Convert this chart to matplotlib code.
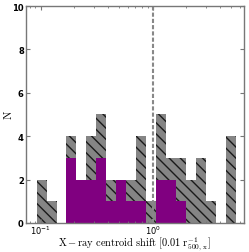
import numpy as np
import matplotlib
matplotlib.use("Agg")
import matplotlib.pyplot as plt

plt.rcParams['mathtext.fontset'] = 'cm'
plt.rcParams['hatch.linewidth'] = 1.0

# bin range (log-spaced bins) and counts
bin_lo = 0.0921
bin_hi = 5.51
n_bins = 20
all_counts = [2, 1, 0, 4, 2, 4, 5, 2, 2, 2, 4, 1, 5, 3, 3, 2, 3, 1, 0, 4]
sub_counts = [0, 0, 0, 3, 2, 2, 3, 1, 2, 1, 1, 0, 2, 2, 1, 0, 0, 0, 0, 0]
xlim = (0.0739, 6.53)
ylim = (0, 10)
vline_x = 1.0

edges = np.logspace(np.log10(bin_lo), np.log10(bin_hi), n_bins + 1)
widths = np.diff(edges)

fig = plt.figure(figsize=(2.49, 2.53), dpi=100)
ax = fig.add_axes([0.104, 0.115, 0.876, 0.857])

ax.bar(edges[:-1], all_counts, width=widths, align='edge',
       facecolor='#858585', edgecolor='#1a1a1a', linewidth=0, hatch='\\\\\\')
ax.bar(edges[:-1], sub_counts, width=widths, align='edge',
       facecolor='#800080', edgecolor='#800080', linewidth=0)

ax.axvline(vline_x, color='#888888', linestyle='--', linewidth=1.5, dashes=(2, 1))

ax.set_xscale('log')
ax.set_xlim(*xlim)
ax.set_ylim(*ylim)
ax.set_yticks([0, 2, 4, 6, 8, 10])

for s in ax.spines.values():
    s.set_color('#777777')
    s.set_linewidth(1.0)
ax.tick_params(which='both', direction='in', top=True, right=True,
               colors='#777777', labelcolor='black', labelsize=6)
ax.tick_params(axis='y', pad=1.5)
ax.tick_params(axis='x', pad=0.5)
ax.tick_params(which='major', length=3)
ax.tick_params(which='minor', length=1.5)
for lab in ax.get_yticklabels():
    lab.set_fontweight('bold')

ax.set_xlabel(r'$\mathrm{X-ray\ centroid\ shift\ [0.01\ r_{500,\,x}^{-1}]}$', fontsize=7.5, labelpad=-1)
ax.set_ylabel(r'$\mathrm{N}$', fontsize=8, labelpad=-1.5)

fig.savefig('out.png', dpi=100)
